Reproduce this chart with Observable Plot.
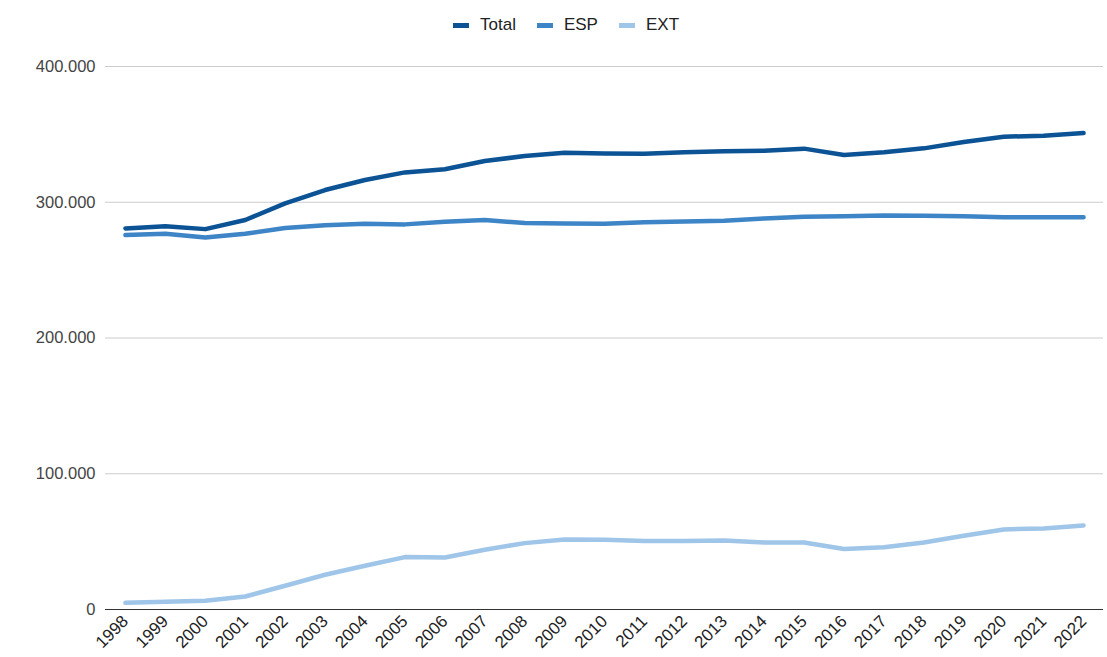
<!DOCTYPE html>
<html>
<head>
<meta charset="utf-8">
<script src="https://cdn.jsdelivr.net/npm/d3@7"></script>
<script src="https://cdn.jsdelivr.net/npm/@observablehq/plot@0.6"></script>
<style>
  html, body { margin: 0; padding: 0; background: #fff; }
  body { width: 1107px; height: 657px; overflow: hidden; font-family: Arial, "Liberation Sans", sans-serif; }
  #legend { height: 50px; display: flex; align-items: center; padding-left: 453px; box-sizing: border-box; font-size: 17px; color: #222; }
  .item { display: flex; align-items: center; margin-right: 21px; }
  .sw { width: 16px; height: 5px; margin-right: 11px; }
</style>
</head>
<body>
<div id="legend"></div>
<div id="chart"></div>
<script>
const years = ["1998","1999","2000","2001","2002","2003","2004","2005","2006","2007","2008","2009","2010","2011","2012","2013","2014","2015","2016","2017","2018","2019","2020","2021","2022"];
const total = [280700,282400,280200,286900,299200,309000,316400,322000,324300,330400,334000,336500,336000,335800,336800,337500,338000,339500,334800,336800,339700,344400,348300,349000,351000];
const esp   = [275800,276800,274100,276800,281000,283000,284100,283700,285600,286900,284700,284400,284100,285200,285900,286400,288100,289300,289600,290300,290000,289600,288900,288900,288900];
const ext   = [4900,5700,6400,9600,17500,25600,32200,38600,38300,44000,48900,51600,51400,50400,50400,50900,49400,49400,44500,45900,49400,54300,59000,59700,61900];
const seriesNames = ["Total","ESP","EXT"];
const seriesColors = ["#0b5394","#3d85c6","#9fc5e8"];
const yTicks = [0,100000,200000,300000,400000];

const seriesValues = [total, esp, ext];
const data = [];
seriesNames.forEach((s, i) => years.forEach((y, j) => data.push({year: y, value: seriesValues[i][j], series: s})));

const loc = d3.formatLocale({decimal: ",", thousands: ".", grouping: [3], currency: ["", "€"]});
const fmt = loc.format(",");

const legend = document.getElementById("legend");
seriesNames.forEach((s, i) => {
  const it = document.createElement("div");
  it.className = "item";
  const sw = document.createElement("div");
  sw.className = "sw";
  sw.style.background = seriesColors[i];
  const t = document.createElement("span");
  t.textContent = s;
  it.appendChild(sw); it.appendChild(t);
  legend.appendChild(it);
});

const chart = Plot.plot({
  width: 1107,
  height: 607,
  marginTop: 16,
  marginBottom: 48,
  marginLeft: 105,
  marginRight: 4,
  style: {fontFamily: 'Arial, "Liberation Sans", sans-serif', fontSize: "16.5px", background: "#fff"},
  x: {type: "point", domain: years, padding: 0.5, round: false, label: null},
  y: {domain: [0, 400000], label: null},
  color: {domain: seriesNames, range: seriesColors},
  marks: [
    Plot.gridY(yTicks, {stroke: "#cccccc", strokeOpacity: 1}),
    Plot.ruleY([0], {stroke: "#333333", strokeWidth: 1}),
    Plot.axisY(yTicks, {tickSize: 0, tickPadding: 10, tickFormat: fmt, fill: "#444", label: null}),
    Plot.axisX({tickSize: 0, tickPadding: 9, tickRotate: -45, fill: "#222", fontSize: 17, label: null}),
    Plot.lineY(data, {x: "year", y: "value", z: "series", stroke: "series", strokeWidth: 4.5})
  ]
});
document.getElementById("chart").appendChild(chart);
</script>
</body>
</html>
